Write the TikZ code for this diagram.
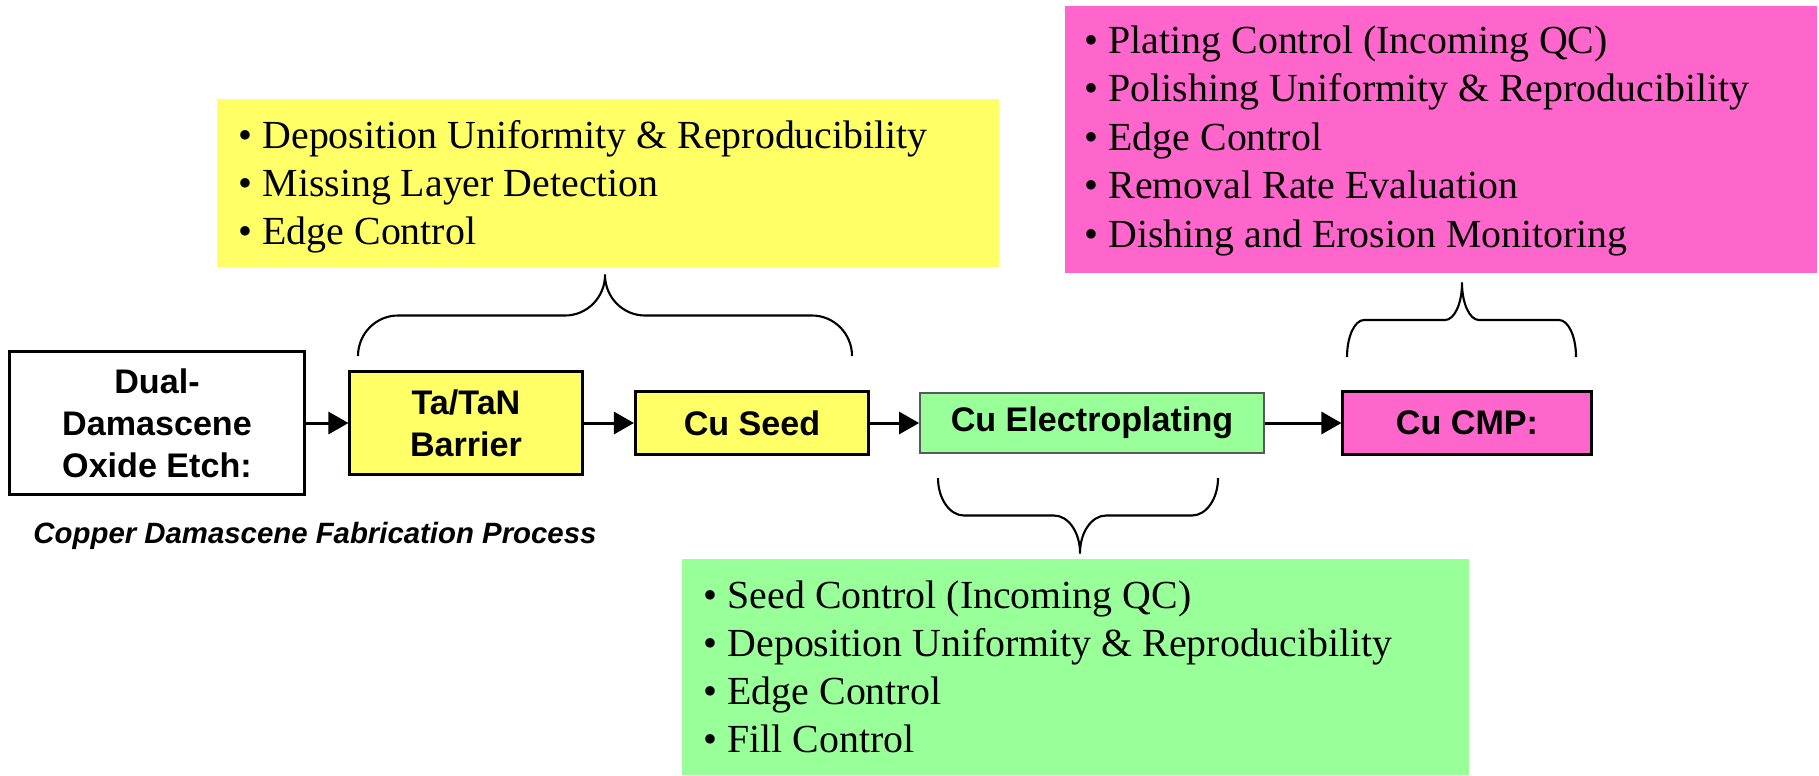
\documentclass[tikz,border=0pt]{standalone}
\usepackage{fontspec}
\setmainfont{Liberation Serif}
\setsansfont{Liberation Sans}
\usetikzlibrary{arrows.meta}
\definecolor{boxyellow}{RGB}{255,255,102}
\definecolor{boxpink}{RGB}{255,102,204}
\definecolor{boxgreen}{RGB}{153,255,153}
% ngoac nhon: trai, phai, x dinh, y chan, nua chieu cao, ban kinh goc
\newcommand{\curlybrace}[6]{%
	\draw[curl] (#1,#4) .. controls (#1,{#4-.552*#5}) and ({#1+.448*#6},{#4-#5}) .. ({#1+#6},{#4-#5})
	-- ({#3-#6},{#4-#5}) .. controls ({#3-.448*#6},{#4-#5}) and (#3,{#4-1.448*#5}) .. (#3,{#4-2*#5})
	.. controls (#3,{#4-1.448*#5}) and ({#3+.448*#6},{#4-#5}) .. ({#3+#6},{#4-#5})
	-- ({#2-#6},{#4-#5}) .. controls ({#2-.448*#6},{#4-#5}) and (#2,{#4-.552*#5}) .. (#2,#4);}
\tikzset{
	stepbox/.style={draw,line width=0.85pt,align=center,inner sep=0pt,
		font=\fontsize{9.7}{11.9}\selectfont\sffamily\bfseries},
	notebox/.style={draw=none,inner sep=0pt},
	item/.style={anchor=base west,inner sep=0pt,font=\fontsize{11.33}{13.6}\selectfont},
	flow/.style={line width=0.85pt,-{Triangle[length=0.2cm,width=0.22cm]}},
	curl/.style={line width=0.6pt,line join=round}
}
\begin{document}
\begin{tikzpicture}[x=0.01cm,y=-0.01cm]
	\useasboundingbox (0,0) rectangle (1819,775);
	% cac buoc
	\node[stepbox,minimum width=2.94cm,minimum height=1.42cm] (etch) at (157,423) {Dual-\\Damascene\\Oxide Etch:};
	\node[stepbox,fill=boxyellow,minimum width=2.32cm,minimum height=1.02cm] (barrier) at (466,423) {Ta/TaN\\Barrier};
	\node[stepbox,fill=boxyellow,minimum width=2.33cm,minimum height=0.63cm] (seed) at (752,423) {Cu Seed};
	\node[stepbox,fill=boxgreen,draw=black!65,line width=0.45pt,minimum width=3.44cm,minimum height=0.6cm] (plating) at (1092,423) {Cu Electroplating};
	\node[stepbox,fill=boxpink,minimum width=2.48cm,minimum height=0.63cm] (cmp) at (1467,423) {Cu CMP:};
	\node[anchor=base,inner sep=0pt,font=\fontsize{8.35}{10}\selectfont\sffamily\bfseries\itshape] (title) at (315,543) {Copper Damascene Fabrication Process};
	% mui ten
	\draw[flow] (etch) -- (barrier);
	\draw[flow] (barrier) -- (seed);
	\draw[flow] (seed) -- (plating);
	\draw[flow] (plating) -- (cmp);
	% hop ghi chu
	\node[notebox,fill=boxyellow,minimum width=7.82cm,minimum height=1.68cm] (barriernote) at (608,183) {};
	\node[notebox,fill=boxpink,minimum width=7.52cm,minimum height=2.67cm] (cmpnote) at (1441,139.5) {};
	\node[notebox,fill=boxgreen,minimum width=7.87cm,minimum height=2.16cm] (platingnote) at (1075.5,667) {};
	\foreach \t [count=\i from 0] in {Deposition Uniformity \& Reproducibility,Missing Layer Detection,Edge Control}
	\node[item] (bq\i) at (238,{148+48*\i}) {• \t};
	\foreach \t [count=\i from 0] in {Plating Control (Incoming QC),Polishing Uniformity \& Reproducibility,Edge Control,Removal Rate Evaluation,Dishing and Erosion Monitoring}
	\node[item] (cq\i) at (1084,{53+48.5*\i}) {• \t};
	\foreach \t [count=\i from 0] in {Seed Control (Incoming QC),Deposition Uniformity \& Reproducibility,Edge Control,Fill Control}
	\node[item] (pq\i) at (703,{608+48*\i}) {• \t};
	% ngoac nhon
	\curlybrace{358}{852}{605}{356}{40.5}{40}
	\curlybrace{1347}{1576}{1462}{357}{37}{17}
	\curlybrace{938}{1218}{1080}{478}{(-37.5)}{26}
\end{tikzpicture}
\end{document}
